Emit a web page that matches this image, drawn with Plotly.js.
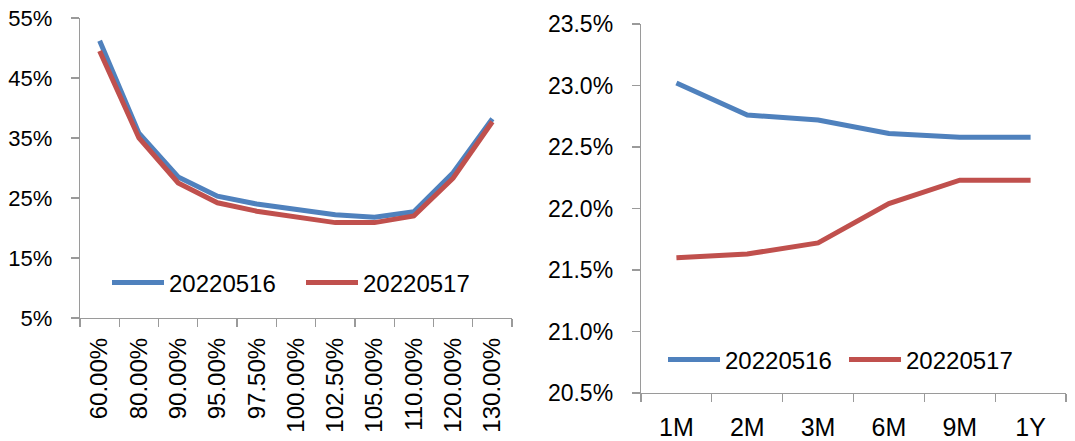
<!DOCTYPE html>
<html>
<head>
<meta charset="utf-8">
<script src="https://cdn.plot.ly/plotly-3.0.1.min.js"></script>
<style>html,body{margin:0;padding:0;background:#fff;}#chart{width:1075px;height:441px;}</style>
</head>
<body>
<div id="chart"></div>
<script>
// Left chart: volatility smile by moneyness
const strikes = ["60.00%","80.00%","90.00%","95.00%","97.50%","100.00%","102.50%","105.00%","110.00%","120.00%","130.00%"];
const smile_20220516 = [51.2, 35.8, 28.5, 25.3, 24.0, 23.1, 22.2, 21.8, 22.7, 29.2, 38.2];
const smile_20220517 = [49.5, 35.0, 27.5, 24.2, 22.8, 21.8, 20.9, 20.9, 22.0, 28.3, 37.7];

// Right chart: term structure
const tenors = ["1M","2M","3M","6M","9M","1Y"];
const term_20220516 = [23.02, 22.76, 22.72, 22.61, 22.58, 22.58];
const term_20220517 = [21.60, 21.63, 21.72, 22.04, 22.23, 22.23];

const seriesNames = ["20220516","20220517"];
const BLUE = "#4f81bd", RED = "#c0504d";
const FONT = "Liberation Sans, Arial, sans-serif";
const AX = "#9a9a9a";

const W = 1075, H = 441;
const px = (a,b) => [a/W, b/W];
const py = (top,bottom) => [1-bottom/H, 1-top/H];

const traces = [
  {x: strikes, y: smile_20220516, name: seriesNames[0], type:"scatter", mode:"lines",
   line:{color:BLUE, width:5}, xaxis:"x", yaxis:"y", legend:"legend"},
  {x: strikes, y: smile_20220517, name: seriesNames[1], type:"scatter", mode:"lines",
   line:{color:RED, width:5}, xaxis:"x", yaxis:"y", legend:"legend"},
  {x: tenors, y: term_20220516, name: seriesNames[0], type:"scatter", mode:"lines",
   line:{color:BLUE, width:5}, xaxis:"x2", yaxis:"y2", legend:"legend2"},
  {x: tenors, y: term_20220517, name: seriesNames[1], type:"scatter", mode:"lines",
   line:{color:RED, width:5}, xaxis:"x2", yaxis:"y2", legend:"legend2"}
];

const axBase = {showline:true, linecolor:AX, linewidth:1.3, ticks:"outside", ticklen:8,
  tickcolor:AX, tickwidth:1.3, showgrid:false, zeroline:false, fixedrange:true};

const layout = {
  width: W, height: H,
  margin:{l:0, r:0, t:0, b:0},
  paper_bgcolor:"#fff", plot_bgcolor:"#fff",
  font:{family:FONT, color:"#000", size:22},
  showlegend:true,
  xaxis: Object.assign({}, axBase, {domain: px(80,512), anchor:"y", type:"category",
    range:[-0.5, strikes.length-0.5], tickson:"boundaries", tickangle:-90,
    tickfont:{size:24}, ticklabelstandoff:9}),
  yaxis: Object.assign({}, axBase, {domain: py(18,318), anchor:"x", range:[5,55],
    tick0:5, dtick:10, ticksuffix:"%", tickfont:{size:22}, ticklabelstandoff:14}),
  xaxis2: Object.assign({}, axBase, {domain: px(641,1066), anchor:"y2", type:"category",
    range:[-0.5, tenors.length-0.5], tickson:"boundaries", tickangle:0,
    tickfont:{size:25}, ticklabelstandoff:12}),
  yaxis2: Object.assign({}, axBase, {domain: py(24,393), anchor:"x2", range:[20.5,23.5],
    tick0:20.5, dtick:0.5, tickformat:".1f", ticksuffix:"%", tickfont:{size:23}, ticklabelstandoff:14}),
  legend: {orientation:"h", x:107/W, xanchor:"left", y:1-283/H, yanchor:"middle",
    bgcolor:"rgba(0,0,0,0)", font:{size:24, family:FONT}, itemwidth:52,
    entrywidth:127, entrywidthmode:"pixels", tracegroupgap:0, itemclick:false},
  legend2: {orientation:"h", x:663/W, xanchor:"left", y:1-360/H, yanchor:"middle",
    bgcolor:"rgba(0,0,0,0)", font:{size:24, family:FONT}, itemwidth:52,
    entrywidth:114, entrywidthmode:"pixels", tracegroupgap:0, itemclick:false}
};

Plotly.newPlot("chart", traces, layout, {displayModeBar:false, staticPlot:true});
</script>
</body>
</html>
